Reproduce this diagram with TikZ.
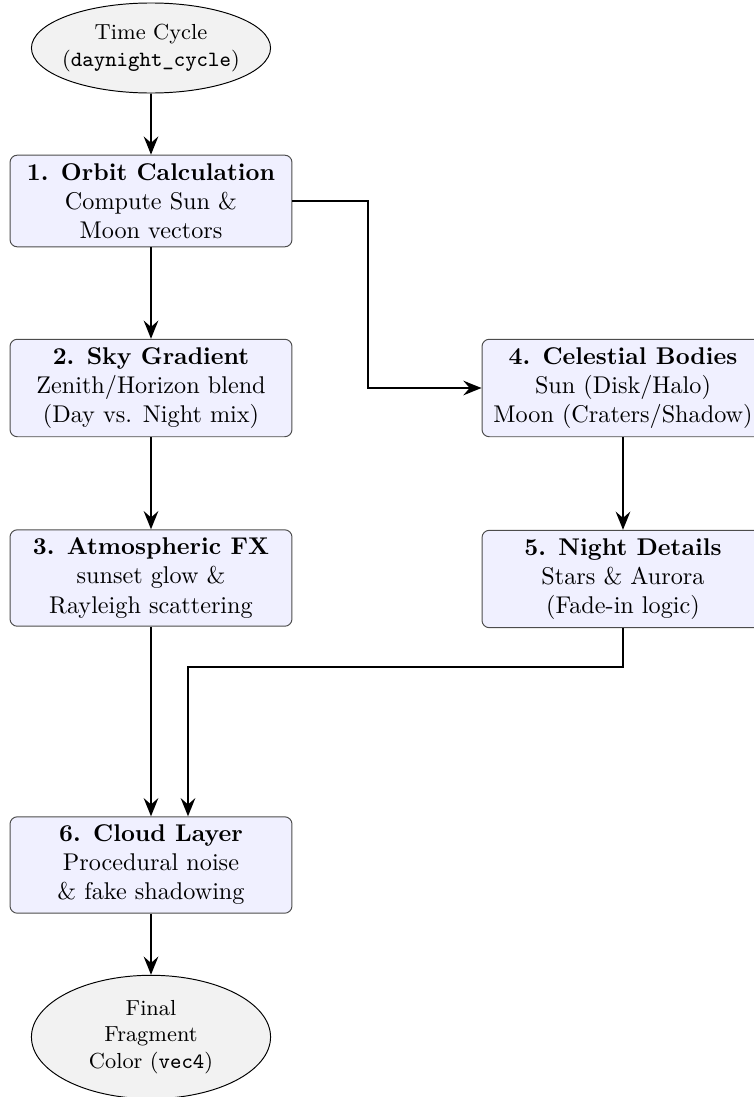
\documentclass[tikz,border=0pt]{standalone}
\usetikzlibrary{shapes.geometric,arrows.meta}
\definecolor{stagefill}{RGB}{240,240,255}
\definecolor{termfill}{RGB}{242,242,242}
\begin{document}
\begin{tikzpicture}[x=0.4132pt,y=-0.4132pt,
  stagebox/.style={draw=black!70,fill=stagefill,rounded corners=3pt,
    minimum width=116.5pt,align=center,inner sep=3.4pt,font=\normalsize},
  terminal/.style={draw=black,fill=termfill,ellipse,align=center,
    font=\small,inner xsep=-2pt,inner ysep=0pt,minimum width=98.8pt},
  flow/.style={line width=1pt,-{Stealth[length=7.5pt,width=6pt,inset=2.6pt]}}]
\useasboundingbox (0,0) rectangle (754,1097);

\node[terminal,minimum height=37.2pt] (start) at (151,48)
  {Time Cycle\\(\texttt{daynight\_cycle})};
\node[stagebox] (orbit) at (151,201)
  {\textbf{1. Orbit Calculation}\\Compute Sun \&\\Moon vectors};
\node[stagebox] (sky) at (151,388)
  {\textbf{2. Sky Gradient}\\Zenith/Horizon blend\\(Day vs. Night mix)};
\node[stagebox] (atmo) at (151,578)
  {\textbf{3. Atmospheric FX}\\sunset glow \&\\Rayleigh scattering};
\node[stagebox] (celest) at (623,388)
  {\textbf{4. Celestial Bodies}\\Sun (Disk/Halo)\\Moon (Craters/Shadow)};
\node[stagebox] (night) at (623,579)
  {\textbf{5. Night Details}\\Stars \& Aurora\\(Fade-in logic)};
\node[stagebox] (cloud) at (151,865)
  {\textbf{6. Cloud Layer}\\Procedural noise\\\& fake shadowing};
\node[terminal,minimum height=51pt] (final) at (151,1037)
  {Final\\Fragment\\Color (\texttt{vec4})};

\coordinate (nightin) at (188,817);

\draw[flow] (start) -- (orbit);
\draw[flow] (orbit) -- (sky);
\draw[flow] (sky) -- (atmo);
\draw[flow] (orbit.east) -- (368,201) |- (celest.west);
\draw[flow] (celest) -- (night);
\draw[flow] (atmo) -- (cloud);
\draw[flow] (night.south) -- (623,667) -| (cloud.north -| nightin);
\draw[flow] (cloud) -- (final);
\end{tikzpicture}
\end{document}
